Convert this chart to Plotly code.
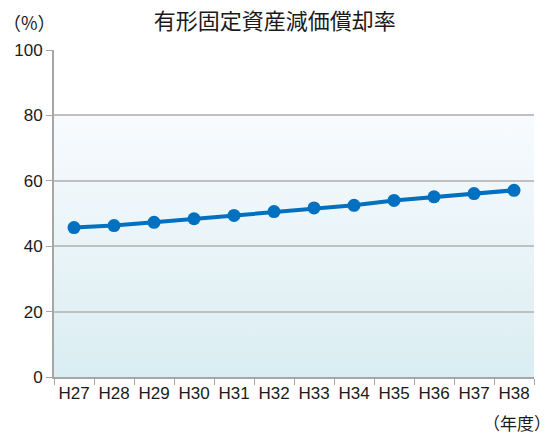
import base64
import plotly.graph_objects as go

years = ['H27', 'H28', 'H29', 'H30', 'H31', 'H32', 'H33', 'H34', 'H35', 'H36', 'H37', 'H38']
rate = [45.7, 46.3, 47.3, 48.4, 49.4, 50.6, 51.7, 52.5, 54.0, 55.1, 56.1, 57.1]
y_ticks = [0, 20, 40, 60, 80, 100]

# light gradient behind the lower part of the plot (0-80)
svg = ('<svg xmlns="http://www.w3.org/2000/svg" width="10" height="100" preserveAspectRatio="none">'
       '<defs><linearGradient id="g" x1="0" y1="0" x2="0" y2="1">'
       '<stop offset="0" stop-color="#f8fbfe"/><stop offset="1" stop-color="#daedf2"/>'
       '</linearGradient></defs><rect width="10" height="100" fill="url(#g)"/></svg>')
bg_src = 'data:image/svg+xml;base64,' + base64.b64encode(svg.encode()).decode()

fig = go.Figure()
fig.add_trace(go.Scatter(x=years, y=rate, mode='lines+markers',
                         line=dict(color='#0070c0', width=4),
                         marker=dict(color='#0070c0', size=13),
                         showlegend=False))

fig.add_layout_image(dict(source=bg_src, xref='paper', yref='y', x=0, y=80,
                          sizex=1, sizey=80, sizing='stretch',
                          xanchor='left', yanchor='top', layer='below'))

fig.update_layout(
    width=553, height=437,
    margin=dict(l=54, r=19, t=50, b=60),
    paper_bgcolor='white', plot_bgcolor='white',
    font=dict(family='Liberation Sans, Arial, sans-serif', size=17, color='#1a1a1a'),
    title=dict(text='有形固定資産減価償却率', x=0.497, xanchor='center', y=0.952, yanchor='middle',
               font=dict(family='Noto Sans CJK JP', size=22, color='#1a1a1a')),
)
fig.update_xaxes(type='category', tickson='boundaries', ticks='outside', ticklen=6,
                 tickcolor='#a6a6a6', showline=True, linecolor='#a6a6a6', linewidth=2,
                 showgrid=False, range=[-0.5, 11.5], tickangle=0, tickfont=dict(size=17))
fig.update_yaxes(range=[0, 100], tickvals=y_ticks, ticks='outside', ticklen=6,
                 tickcolor='#a6a6a6', showline=True, linecolor='#a6a6a6', linewidth=2,
                 gridcolor='#c0c0c0', gridwidth=1.5, zeroline=False, tickfont=dict(size=17))

fig.add_annotation(text='（%）', xref='paper', yref='paper', x=-0.11, y=1.085,
                   xanchor='left', yanchor='middle', showarrow=False,
                   font=dict(family='Noto Sans CJK JP', size=18, color='#1a1a1a'))
fig.add_annotation(text='（年度）', xref='paper', yref='paper', x=1.039, y=-0.138,
                   xanchor='right', yanchor='middle', showarrow=False,
                   font=dict(family='Noto Sans CJK JP', size=17, color='#1a1a1a'))

fig.write_html('out.html', config={'displayModeBar': False},
               post_script="document.body.style.margin='0';")
